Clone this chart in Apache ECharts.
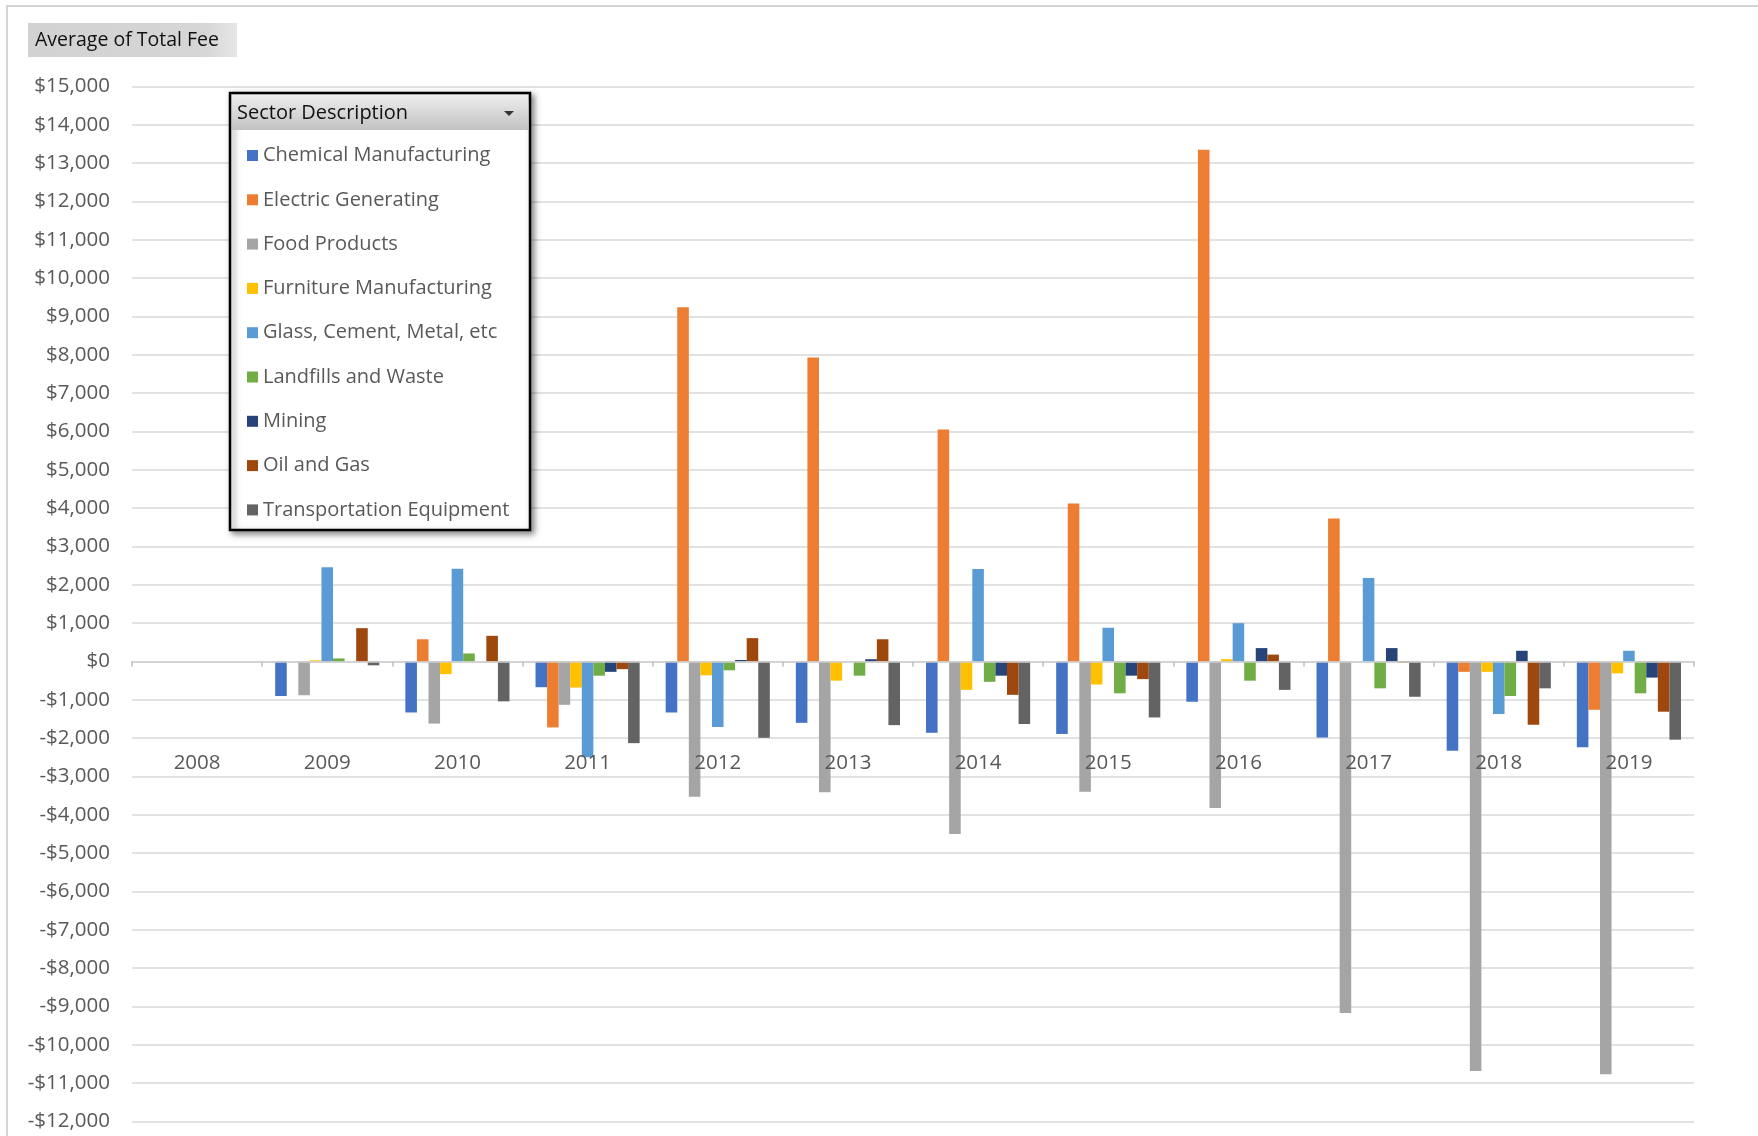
<!DOCTYPE html>
<html>
<head>
<meta charset="utf-8">
<title>Average of Total Fee by Sector</title>
<script src="https://cdn.jsdelivr.net/npm/echarts@6/dist/echarts.min.js"></script>
<style>
  html, body { margin: 0; padding: 0; background: #ffffff; }
  #chart { width: 1758px; height: 1136px; }
</style>
</head>
<body>
<div id="chart"></div>
<script>
// Years on the category axis
const years = ['2008', '2009', '2010', '2011', '2012', '2013', '2014', '2015', '2016', '2017', '2018', '2019'];

// Average total fee per sector and year (null = no data)
const chemicalManufacturing = [null, -900, -1330, -670, -1330, -1600, -1860, -1890, -1050, -1980, -2330, -2240];
const electricGenerating    = [null, null, 580, -1720, 9240, 7930, 6050, 4120, 13350, 3730, -270, -1260];
const foodProducts          = [null, -880, -1620, -1130, -3530, -3410, -4500, -3400, -3820, -9170, -10680, -10770];
const furnitureManufacturing= [null, 30, -330, -680, -360, -500, -740, -600, 60, null, -270, -310];
const glassCementMetal      = [null, 2460, 2420, -2500, -1710, null, 2410, 880, 1000, 2180, -1370, 280];
const landfillsWaste        = [null, 80, 210, -370, -230, -370, -530, -830, -500, -700, -900, -830];
const mining                = [null, null, null, -270, 40, 60, -370, -370, 350, 350, 280, -420];
const oilAndGas             = [null, 870, 670, -200, 610, 580, -870, -460, 180, -30, -1650, -1310];
const transportation        = [null, -100, -1040, -2130, -1990, -1660, -1630, -1460, -740, -920, -700, -2040];

const sectorNames = [
  'Chemical Manufacturing', 'Electric Generating', 'Food Products', 'Furniture Manufacturing',
  'Glass, Cement, Metal, etc', 'Landfills and Waste', 'Mining', 'Oil and Gas', 'Transportation Equipment'
];
const sectorValues = [
  chemicalManufacturing, electricGenerating, foodProducts, furnitureManufacturing,
  glassCementMetal, landfillsWaste, mining, oilAndGas, transportation
];
const sectorColors = ['#4472C4', '#ED7D31', '#A5A5A5', '#FFC000', '#5B9BD5', '#70AD47', '#264478', '#9E480E', '#636363'];

// Value axis range and tick step
const yMin = -12000, yMax = 15000, yStep = 1000;

const FONT = '"Open Sans", "Noto Sans", sans-serif';

const chart = echarts.init(document.getElementById('chart'), null, { renderer: 'canvas' });

const money = v => (v < 0 ? '-$' : '$') + Math.abs(v).toLocaleString('en-US');

const plotLeft = 132, plotRight = 64;

const option = {
  animation: false,
  backgroundColor: '#ffffff',
  textStyle: { fontFamily: FONT },
  grid: [
    // plot area
    { left: plotLeft, right: plotRight, top: 86.5, bottom: 14.5, containLabel: false, outerBoundsMode: 'none' },
    // strip whose lower edge carries the year labels, below the zero line
    { left: plotLeft, right: plotRight, top: 86.5, bottom: 1136 - 753, containLabel: false, outerBoundsMode: 'none' }
  ],
  legend: {
    orient: 'vertical',
    left: 242,
    top: 138.5,
    z: 20,
    icon: 'rect',
    itemWidth: 11,
    itemHeight: 11,
    itemGap: 20.3,
    data: sectorNames,
    textStyle: { fontFamily: FONT, fontSize: 20, lineHeight: 24, color: '#595959' },
    selectedMode: false
  },
  xAxis: [
    {
      // zero line with downward tick marks
      type: 'category',
      gridIndex: 0,
      data: years,
      z: 3,
      axisLine: { onZero: true, onZeroAxisIndex: 0, lineStyle: { color: '#d0d0d0', width: 1.5 } },
      axisTick: { show: true, length: 5, lineStyle: { color: '#bfbfbf', width: 1.5 } },
      axisLabel: { show: false },
      splitLine: { show: false }
    },
    {
      // upward half of the crossing tick marks
      type: 'category',
      gridIndex: 0,
      data: years,
      position: 'top',
      z: 3,
      axisLine: { show: false, onZero: true, onZeroAxisIndex: 1 },
      axisTick: { show: true, inside: true, length: 5, lineStyle: { color: '#bfbfbf', width: 1.5 } },
      axisLabel: { show: false },
      splitLine: { show: false }
    },
    {
      // year labels
      type: 'category',
      gridIndex: 1,
      data: years,
      z: 4,
      axisLine: { show: false, onZero: false },
      axisTick: { show: false },
      axisLabel: { margin: 0, fontFamily: FONT, fontSize: 20.5, color: '#595959' },
      splitLine: { show: false }
    }
  ],
  yAxis: [
    {
      type: 'value',
      gridIndex: 0,
      min: yMin,
      max: yMax,
      interval: yStep,
      axisLine: { show: false },
      axisTick: { show: false },
      axisLabel: { margin: 22, fontFamily: FONT, fontSize: 20.5, color: '#595959', formatter: money },
      splitLine: { lineStyle: { color: '#d9d9d9', width: 1.5 } }
    },
    {
      type: 'value',
      gridIndex: 0,
      min: yMin,
      max: yMax,
      interval: yStep,
      show: false,
      splitLine: { show: false }
    },
    {
      type: 'value',
      gridIndex: 1,
      min: 0,
      max: 1,
      show: false,
      splitLine: { show: false }
    }
  ],
  series: sectorNames.map((name, i) => ({
    name,
    type: 'bar',
    xAxisIndex: 0,
    yAxisIndex: 0,
    data: sectorValues[i],
    itemStyle: { color: sectorColors[i] },
    barGap: '0%',
    barCategoryGap: '20%'
  })),
  graphic: [
    // outer chart frame
    {
      type: 'rect', z: 1, silent: true,
      shape: { x: 7, y: 6, width: 1800, height: 1200 },
      style: { fill: 'none', stroke: '#d4d4d4', lineWidth: 2 }
    },
    // field button
    {
      type: 'rect', z: 10, silent: true,
      shape: { x: 28, y: 23, width: 209, height: 34 },
      style: {
        fill: new echarts.graphic.LinearGradient(0, 0, 1, 0, [
          { offset: 0, color: '#d2d2d2' },
          { offset: 0.85, color: '#d6d6d6' },
          { offset: 1, color: '#e6e6e6' }
        ])
      }
    },
    {
      type: 'text', z: 11, silent: true,
      style: {
        x: 35, y: 40.5, text: 'Average of Total Fee',
        font: '19.5px ' + FONT, fill: '#111111', verticalAlign: 'middle'
      }
    },
    // legend frame with header
    {
      type: 'rect', z: 10, silent: true,
      shape: { x: 230, y: 93, width: 300, height: 437 },
      style: {
        fill: '#ffffff', stroke: '#000000', lineWidth: 2.5,
        shadowBlur: 6, shadowOffsetX: 3, shadowOffsetY: 3, shadowColor: 'rgba(0,0,0,0.45)'
      }
    },
    {
      type: 'rect', z: 11, silent: true,
      shape: { x: 232, y: 95, width: 296, height: 35 },
      style: {
        fill: new echarts.graphic.LinearGradient(0, 0, 0, 1, [
          { offset: 0, color: '#eeeeee' },
          { offset: 1, color: '#c2c2c2' }
        ])
      }
    },
    {
      type: 'text', z: 12, silent: true,
      style: {
        x: 237, y: 113, text: 'Sector Description',
        font: '20px ' + FONT, fill: '#111111', verticalAlign: 'middle'
      }
    },
    {
      type: 'polygon', z: 12, silent: true,
      shape: { points: [[504, 111], [514, 111], [509, 116]] },
      style: { fill: '#333333' }
    }
  ]
};

chart.setOption(option);
</script>
</body>
</html>
